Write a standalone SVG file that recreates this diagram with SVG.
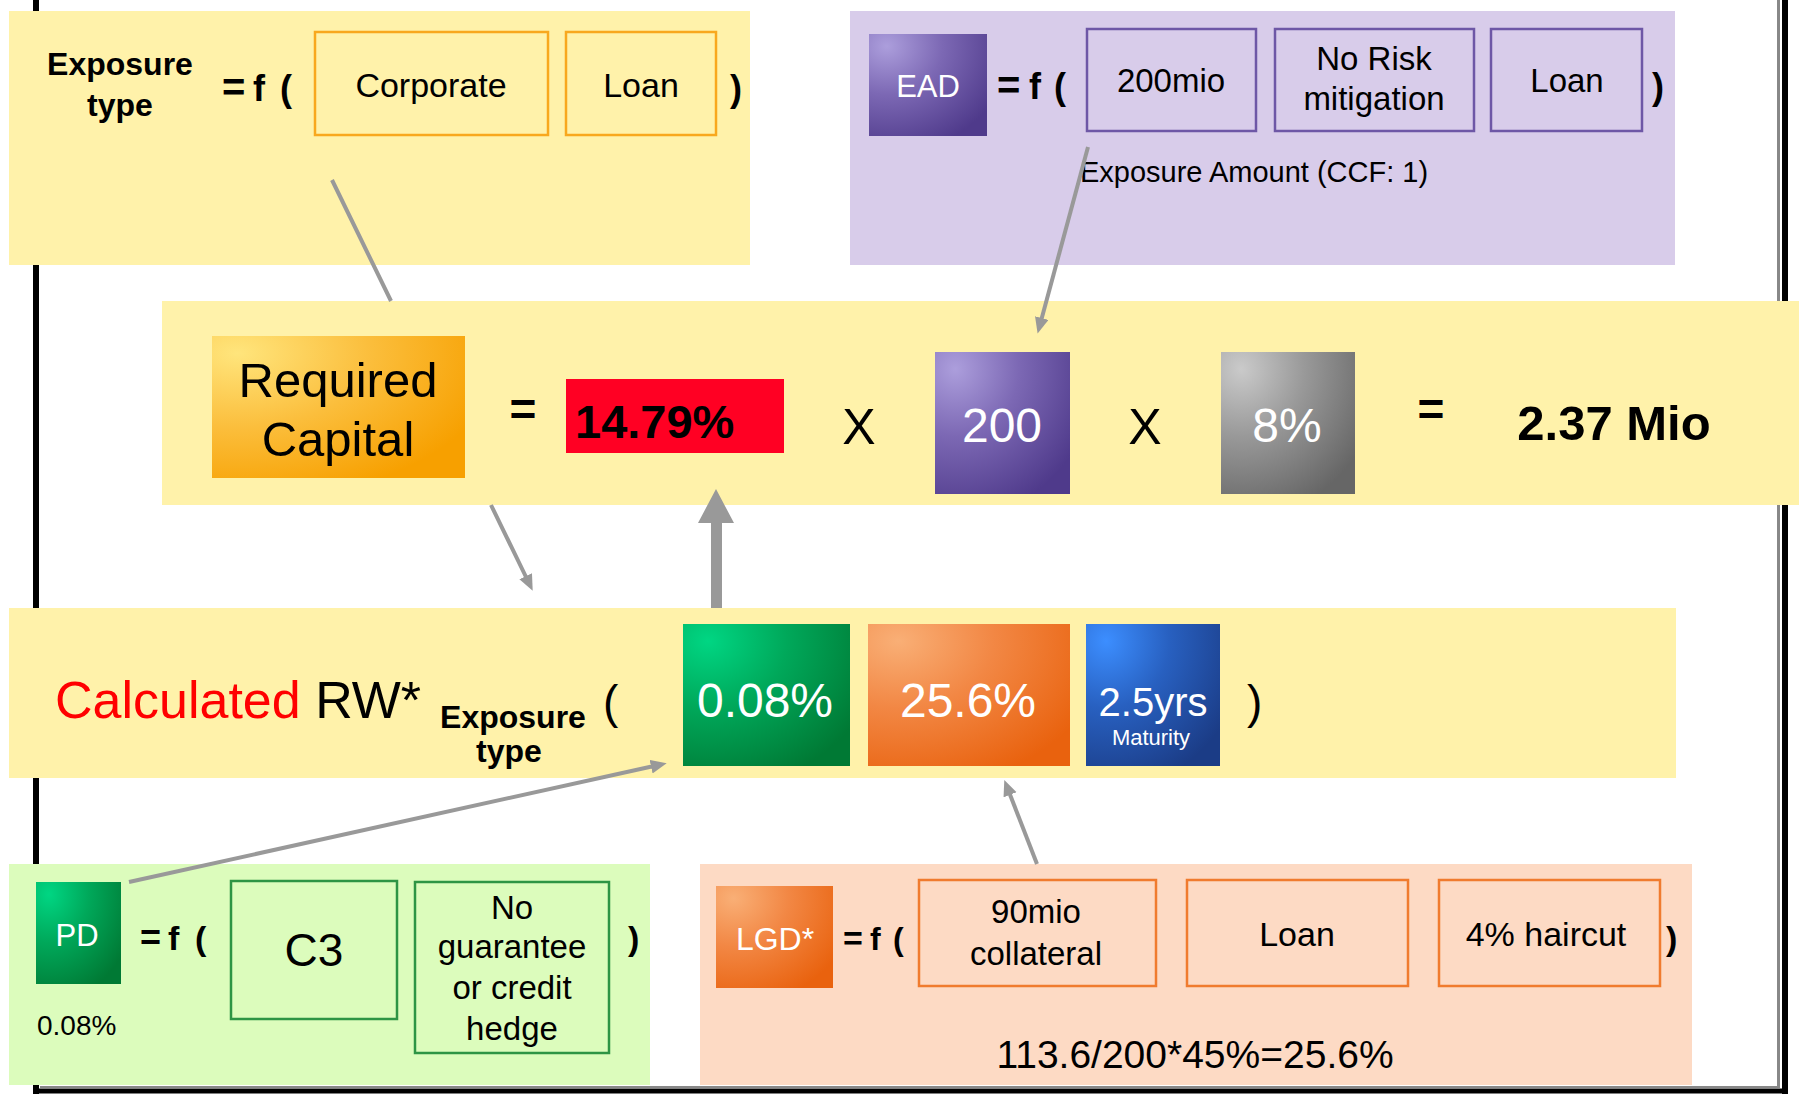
<svg xmlns="http://www.w3.org/2000/svg" width="1799" height="1094" viewBox="0 0 1799 1094">
<defs>
<radialGradient id="gPurple" cx="0.15" cy="0.12" r="1.05" fx="0.15" fy="0.12"><stop offset="0" stop-color="#AC9EDC"/><stop offset="0.45" stop-color="#7C68B4"/><stop offset="1" stop-color="#4F3A8B"/></radialGradient>
<radialGradient id="gGray" cx="0.15" cy="0.12" r="1.05" fx="0.15" fy="0.12"><stop offset="0" stop-color="#CACACA"/><stop offset="0.45" stop-color="#999"/><stop offset="1" stop-color="#666"/></radialGradient>
<radialGradient id="gYellow" cx="0.1" cy="0.12" r="1.05" fx="0.1" fy="0.12"><stop offset="0" stop-color="#FFE57C"/><stop offset="0.5" stop-color="#FBBE3C"/><stop offset="1" stop-color="#F7A000"/></radialGradient>
<radialGradient id="gGreen" cx="0.15" cy="0.12" r="1.05" fx="0.15" fy="0.12"><stop offset="0" stop-color="#00D683"/><stop offset="0.45" stop-color="#00A85A"/><stop offset="1" stop-color="#007934"/></radialGradient>
<radialGradient id="gOrange" cx="0.15" cy="0.12" r="1.05" fx="0.15" fy="0.12"><stop offset="0" stop-color="#F9AF76"/><stop offset="0.45" stop-color="#F28744"/><stop offset="1" stop-color="#E9620E"/></radialGradient>
<radialGradient id="gBlue" cx="0.15" cy="0.12" r="1.05" fx="0.15" fy="0.12"><stop offset="0" stop-color="#3C8EFF"/><stop offset="0.45" stop-color="#2860C0"/><stop offset="1" stop-color="#1B3C86"/></radialGradient>
<marker id="ah" markerUnits="userSpaceOnUse" markerWidth="18" markerHeight="16" refX="3" refY="7" orient="auto"><path d="M0,0 L16,7 L0,14 z" fill="#999"/></marker>
</defs>
<style>
text{font-family:"Liberation Sans",Arial,sans-serif;fill:#000}
.b{font-weight:bold}
.w{fill:#fff}
.m{text-anchor:middle}
.ylw{fill:#FFF2AA}
.box-o{fill:none;stroke:#F8A81E;stroke-width:2.5}
.box-p{fill:none;stroke:#6E57A6;stroke-width:2.5}
.box-g{fill:none;stroke:#2E9444;stroke-width:2.5}
.box-r{fill:none;stroke:#F07B2E;stroke-width:2.5}
.conn{fill:none;stroke:#999;stroke-width:4}
</style>
<rect width="1799" height="1094" fill="#fff"/>
<g id="frame">
<line x1="36" y1="0" x2="36" y2="1094" stroke="#000" stroke-width="6"/>
<line x1="1785" y1="0" x2="1785" y2="1094" stroke="#000" stroke-width="6"/>
<line x1="33" y1="1091" x2="1788" y2="1091" stroke="#000" stroke-width="5"/>
<line x1="1778.5" y1="0" x2="1778.5" y2="1088" stroke="#888" stroke-width="3"/>
<line x1="40" y1="1087" x2="1780" y2="1087" stroke="#888" stroke-width="2"/>
</g>
<g id="exposure-type">
<rect class="ylw" x="9" y="11" width="741" height="254"/>
<text class="b m" x="120" y="75" font-size="32">Exposure</text>
<text class="b m" x="120" y="116" font-size="32">type</text>
<text class="b" y="101" font-size="36"><tspan x="222" font-size="40">=</tspan><tspan x="253">f</tspan><tspan x="280">(</tspan></text>
<rect class="box-o" x="315" y="32" width="233" height="103"/>
<text class="m" x="431" y="97" font-size="34">Corporate</text>
<rect class="box-o" x="566" y="32" width="150" height="103"/>
<text class="m" x="641" y="97" font-size="34">Loan</text>
<text class="b" x="730" y="101" font-size="36">)</text>
</g>
<g id="ead">
<rect x="850" y="11" width="825" height="254" fill="#D8CCEA"/>
<rect x="869" y="34" width="118" height="102" fill="url(#gPurple)"/>
<text class="w m" x="928" y="97" font-size="31">EAD</text>
<text class="b" y="99" font-size="36"><tspan x="997" font-size="40">=</tspan><tspan x="1029">f</tspan><tspan x="1054">(</tspan></text>
<rect class="box-p" x="1087" y="29" width="169" height="102"/>
<text class="m" x="1171" y="92" font-size="33">200mio</text>
<rect class="box-p" x="1275" y="29" width="199" height="102"/>
<text class="m" x="1374" y="70" font-size="33">No Risk</text>
<text class="m" x="1374" y="110" font-size="33">mitigation</text>
<rect class="box-p" x="1491" y="29" width="151" height="102"/>
<text class="m" x="1567" y="92" font-size="33">Loan</text>
<text class="b" x="1652" y="99" font-size="36">)</text>
<text class="m" x="1254" y="182" font-size="29">Exposure Amount (CCF: 1)</text>
</g>
<g id="required-capital">
<rect class="ylw" x="162" y="301" width="1637" height="204"/>
<rect x="212" y="336" width="253" height="142" fill="url(#gYellow)"/>
<text class="m" x="338" y="397" font-size="49">Required</text>
<text class="m" x="338" y="456" font-size="49">Capital</text>
<text class="b m" x="523" y="425" font-size="46">=</text>
<rect x="566" y="379" width="218" height="74" fill="#FF0023"/>
<text class="b" x="575" y="438" font-size="47">14.79%</text>
<text class="m" x="859" y="444" font-size="50">X</text>
<rect x="935" y="352" width="135" height="142" fill="url(#gPurple)"/>
<text class="w m" x="1002" y="442" font-size="48">200</text>
<text class="m" x="1145" y="444" font-size="50">X</text>
<rect x="1221" y="352" width="134" height="142" fill="url(#gGray)"/>
<text class="w m" x="1287" y="442" font-size="48">8%</text>
<text class="b m" x="1431" y="425" font-size="46">=</text>
<text class="b m" x="1614" y="440" font-size="49">2.37 Mio</text>
</g>
<g id="calculated-rw">
<rect class="ylw" x="9" y="608" width="1667" height="170"/>
<text x="55" y="718" font-size="52"><tspan fill="#FF0000">Calculated</tspan> RW*</text>
<text class="b m" x="513" y="728" font-size="32">Exposure</text>
<text class="b m" x="509" y="762" font-size="32">type</text>
<text x="603" y="718" font-size="46">(</text>
<rect x="683" y="624" width="167" height="142" fill="url(#gGreen)"/>
<text class="w m" x="765" y="717" font-size="48">0.08%</text>
<rect x="868" y="624" width="202" height="142" fill="url(#gOrange)"/>
<text class="w m" x="968" y="717" font-size="48">25.6%</text>
<rect x="1086" y="624" width="134" height="142" fill="url(#gBlue)"/>
<text class="w m" x="1153" y="716" font-size="40">2.5yrs</text>
<text class="w m" x="1151" y="745" font-size="22">Maturity</text>
<text x="1247" y="718" font-size="46">)</text>
</g>
<g id="pd">
<rect x="9" y="864" width="641" height="221" fill="#DCFCBC"/>
<rect x="36" y="882" width="85" height="102" fill="url(#gGreen)"/>
<text class="w m" x="77" y="946" font-size="31">PD</text>
<text class="b" y="950" font-size="34"><tspan x="140" font-size="36">=</tspan><tspan x="168">f</tspan><tspan x="195">(</tspan></text>
<rect class="box-g" x="231" y="881" width="166" height="138"/>
<text class="m" x="314" y="966" font-size="46">C3</text>
<rect class="box-g" x="415" y="882" width="194" height="171"/>
<text class="m" x="512" y="919" font-size="33">No</text>
<text class="m" x="512" y="958" font-size="33">guarantee</text>
<text class="m" x="512" y="999" font-size="33">or credit</text>
<text class="m" x="512" y="1040" font-size="33">hedge</text>
<text class="b" x="628" y="950" font-size="34">)</text>
<text x="37" y="1035" font-size="28">0.08%</text>
</g>
<g id="lgd">
<rect x="700" y="864" width="992" height="221" fill="#FDDAC4"/>
<rect x="716" y="886" width="117" height="102" fill="url(#gOrange)"/>
<text class="w m" x="775" y="950" font-size="32">LGD*</text>
<text class="b" y="950" font-size="32"><tspan x="843" font-size="34">=</tspan><tspan x="870">f</tspan><tspan x="893">(</tspan></text>
<rect class="box-r" x="919" y="880" width="237" height="106"/>
<text class="m" x="1036" y="923" font-size="33">90mio</text>
<text class="m" x="1036" y="965" font-size="33">collateral</text>
<rect class="box-r" x="1187" y="880" width="221" height="106"/>
<text class="m" x="1297" y="946" font-size="34">Loan</text>
<rect class="box-r" x="1439" y="880" width="221" height="106"/>
<text class="m" x="1546" y="946" font-size="34">4% haircut</text>
<text class="b" x="1666" y="950" font-size="34">)</text>
<text class="m" x="1195" y="1068" font-size="39">113.6/200*45%=25.6%</text>
</g>
<g id="connectors">
<path class="conn" d="M332,180 L391,301 M491,505 L527,579" marker-end="url(#ah)"/>
<path class="conn" d="M1088,147 L1041,321" marker-end="url(#ah)"/>
<path class="conn" d="M129,882 L654,766" marker-end="url(#ah)"/>
<path class="conn" d="M1037,864 L1009,792" marker-end="url(#ah)"/>
<path d="M711,608 L711,523 L698,523 L716,489 L734,523 L722,523 L722,608 Z" fill="#999"/>
</g>
</svg>
